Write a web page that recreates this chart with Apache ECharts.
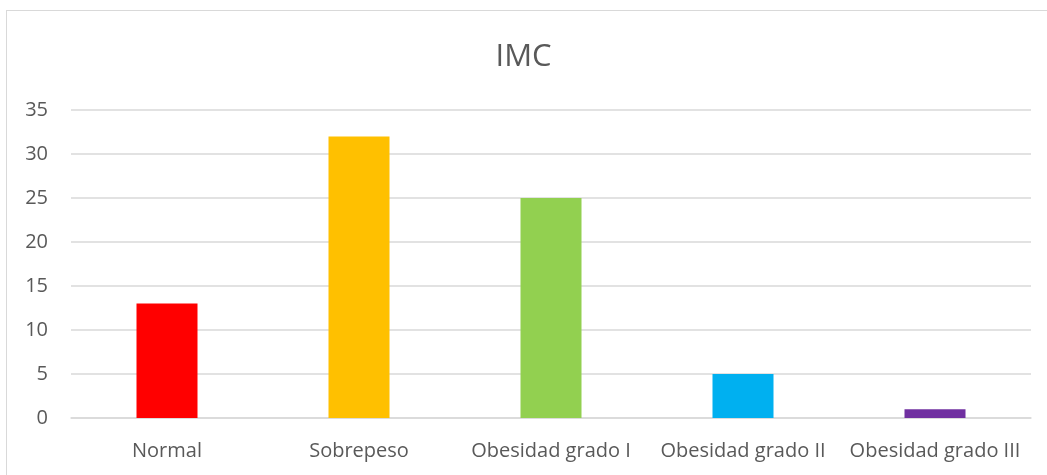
<!DOCTYPE html>
<html>
<head>
<meta charset="utf-8">
<script src="https://cdn.jsdelivr.net/npm/echarts@6/dist/echarts.min.js"></script>
<style>
  html, body { margin: 0; padding: 0; background: #fff; }
  .chart-wrap { position: relative; width: 1047px; height: 475px; overflow: hidden; }
  .frame { position: absolute; left: 6px; top: 10px; width: 1100px; height: 500px; border: 1.5px solid #d9d9d9; box-sizing: border-box; }
  #chart { position: absolute; left: 0; top: 0; width: 1047px; height: 475px; }
</style>
</head>
<body>
<div class="chart-wrap">
  <div class="frame"></div>
  <div id="chart"></div>
</div>
<script>
  const categories = ['Normal', 'Sobrepeso', 'Obesidad grado I', 'Obesidad grado II', 'Obesidad grado III']
  const values = [13, 32, 25, 5, 1]
  const barColors = ['#ff0000', '#ffc000', '#92d050', '#00b0f0', '#7030a0']

  const mychart = echarts.init(document.getElementById('chart'))
  mychart.setOption({
    animation: false,
    title: {
      text: 'IMC',
      left: 'center',
      top: 37,
      textStyle: {
        fontFamily: 'Open Sans',
        fontWeight: 'normal',
        fontSize: 31,
        color: '#595959'
      }
    },
    grid: { left: 71, right: 16, top: 110, bottom: 57 },
    xAxis: {
      type: 'category',
      data: categories,
      axisLine: { lineStyle: { color: '#d9d9d9', width: 1.5 } },
      axisTick: { show: false },
      axisLabel: { interval: 0, color: '#595959', fontFamily: 'Open Sans', fontSize: 20, margin: 23 }
    },
    yAxis: {
      type: 'value',
      min: 0,
      max: 35,
      interval: 5,
      axisLine: { show: false },
      axisTick: { show: false },
      splitLine: { lineStyle: { color: '#d9d9d9', width: 1.5 } },
      axisLabel: { color: '#595959', fontFamily: 'Open Sans', fontSize: 20, margin: 23 }
    },
    series: [{
      type: 'bar',
      barWidth: 61,
      data: values.map((v, i) => ({ value: v, itemStyle: { color: barColors[i] } }))
    }]
  })
</script>
</body>
</html>
